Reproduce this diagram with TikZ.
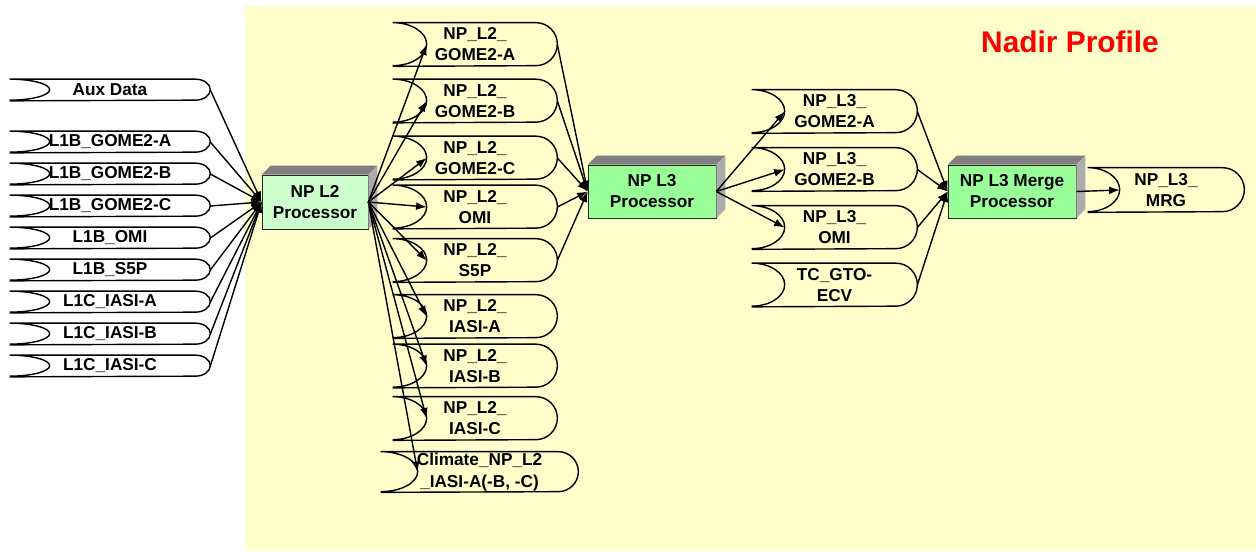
\documentclass[tikz,border=0pt]{standalone}
\usepackage{fontspec}
\setmainfont{Liberation Sans}
\definecolor{npyellow}{RGB}{255,255,204}
\definecolor{nplight}{RGB}{204,255,204}
\definecolor{npgreen}{RGB}{153,255,153}
\definecolor{npdark}{RGB}{128,128,128}
\definecolor{npside}{RGB}{172,172,172}
\usetikzlibrary{arrows.meta}

\begin{document}
\begin{tikzpicture}[x=0.02cm, y=0.02cm,
	dsbox/.style={inner sep=0pt, align=center, font=\fontsize{9.8}{12}\selectfont\bfseries},
	inbox/.style={dsbox, minimum width=4cm, minimum height=0.42cm},
	l2box/.style={dsbox, minimum width=3.28cm, minimum height=0.86cm},
	l3box/.style={dsbox, minimum width=3.3cm, minimum height=0.86cm},
	procbox/.style={draw=black!85, fill=#1, inner sep=1pt, align=center,
		minimum width=2.56cm, minimum height=1.06cm, font=\fontsize{9.8}{12}\selectfont\bfseries},
	parr/.style={-{Latex[length=6pt,width=4.5pt]}, line width=0.8pt},
	dsline/.style={line width=0.8pt}
	]
	\useasboundingbox (0,0) rectangle (1256,-551);
	\fill[npyellow] (245,-6) rectangle (1256,-551);
	\node[font=\fontsize{17}{20}\selectfont\bfseries, text=red] (title) at (1070,-42) {Nadir Profile};

	\node[inbox] (aux) at (110,-90) {Aux Data};
	\node[inbox] (l1bga) at (110,-142) {L1B\_GOME2-A};
	\node[inbox] (l1bgb) at (110,-174) {L1B\_GOME2-B};
	\node[inbox] (l1bgc) at (110,-206) {L1B\_GOME2-C};
	\node[inbox] (l1bomi) at (110,-238) {L1B\_OMI};
	\node[inbox] (l1bs5p) at (110,-270) {L1B\_S5P};
	\node[inbox] (l1cia) at (110,-302) {L1C\_IASI-A};
	\node[inbox] (l1cib) at (110,-334) {L1C\_IASI-B};
	\node[inbox] (l1cic) at (110,-366) {L1C\_IASI-C};

	\node[procbox=nplight, minimum width=2.12cm, minimum height=1.08cm] (l2) at (315,-202) {NP L2\\Processor};

	\node[l2box] (l2ga) at (475,-44.5) {NP\_L2\_\\GOME2-A};
	\node[l2box] (l2gb) at (475,-101) {NP\_L2\_\\GOME2-B};
	\node[l2box] (l2gc) at (475,-158) {NP\_L2\_\\GOME2-C};
	\node[l2box] (l2omi) at (475,-207) {NP\_L2\_\\OMI};
	\node[l2box] (l2s5p) at (475,-260.5) {NP\_L2\_\\S5P};
	\node[l2box] (l2ia) at (475,-316.5) {NP\_L2\_\\IASI-A};
	\node[l2box] (l2ib) at (475,-366) {NP\_L2\_\\IASI-B};
	\node[l2box] (l2ic) at (475,-418.5) {NP\_L2\_\\IASI-C};
	\node[dsbox, minimum width=3.94cm, minimum height=0.8cm] (clim) at (479.5,-472) {Climate\_NP\_L2\\\_IASI-A(-B, -C)};

	\node[procbox=npgreen] (l3) at (652,-191.5) {NP L3\\Processor};

	\node[l3box] (l3ga) at (834.5,-111.5) {NP\_L3\_\\GOME2-A};
	\node[l3box] (l3gb) at (834.5,-169.5) {NP\_L3\_\\GOME2-B};
	\node[l3box] (l3omi) at (834.5,-227.5) {NP\_L3\_\\OMI};
	\node[l3box] (tcgto) at (834.5,-285) {TC\_GTO-\\ECV};

	\node[procbox=npgreen] (merge) at (1012,-191.5) {NP L3 Merge\\Processor};
	\node[dsbox, minimum width=3.12cm, minimum height=0.88cm] (mrg) at (1166,-190) {NP\_L3\_\\MRG};

	\foreach \n in {l2,l3,merge}{
		\fill[npdark] (\n.north west) -- ++(9,9) -- ([shift={(9,9)}]\n.north east) -- (\n.north east) -- cycle;
		\fill[npside] (\n.north east) -- ++(9,9) -- ([shift={(9,9)}]\n.south east) -- (\n.south east) -- cycle;
	}

	\foreach \n in {aux,l1bga,l1bgb,l1bgc,l1bomi,l1bs5p,l1cia,l1cib,l1cic}
		\draw[dsline] (\n.north west) arc[start angle=90, end angle=-90, x radius=40, y radius=10.5]
			(\n.north west) -- ([xshift=-0.3cm]\n.north east) arc[start angle=90, end angle=-90, x radius=15, y radius=10.5] -- (\n.south west);
	\foreach \n in {l2ga,l2gb,l2gc,l2omi,l2s5p,l2ia,l2ib,l2ic}
		\draw[dsline] (\n.north west) arc[start angle=90, end angle=-90, x radius=34, y radius=21.5]
			(\n.north west) -- ([xshift=-0.43cm]\n.north east) arc[start angle=90, end angle=-90, radius=21.5] -- (\n.south west);
	\draw[dsline] (clim.north west) arc[start angle=90, end angle=-90, x radius=37, y radius=20]
		(clim.north west) -- ([xshift=-0.4cm]clim.north east) arc[start angle=90, end angle=-90, radius=20] -- (clim.south west);
	\foreach \n in {l3ga,l3gb,l3omi,tcgto}
		\draw[dsline] (\n.north west) arc[start angle=90, end angle=-90, x radius=33, y radius=21.5]
			(\n.north west) -- ([xshift=-0.43cm]\n.north east) arc[start angle=90, end angle=-90, radius=21.5] -- (\n.south west);
	\draw[dsline] (mrg.north west) arc[start angle=90, end angle=-90, x radius=32, y radius=22]
		(mrg.north west) -- ([xshift=-0.44cm]mrg.north east) arc[start angle=90, end angle=-90, radius=22] -- (mrg.south west);

	\foreach \n in {aux,l1bga,l1bgb,l1bgc,l1bomi,l1bs5p,l1cia,l1cib,l1cic}
		\draw[parr] (\n.east) -- (l2.west);
	\foreach \n in {l2ga,l2gb,l2gc,l2omi,l2s5p,l2ia,l2ib,l2ic}
		\draw[parr] (l2.east) -- ([xshift=0.68cm]\n.west);
	\draw[parr] (l2.east) -- ([xshift=0.74cm]clim.west);
	\foreach \n in {l2ga,l2gb,l2gc,l2omi,l2s5p}
		\draw[parr] (\n.east) -- (l3.west);
	\foreach \n in {l3ga,l3gb,l3omi}
		\draw[parr] (l3.east) -- ([xshift=0.66cm]\n.west);
	\foreach \n in {l3ga,l3gb,l3omi,tcgto}
		\draw[parr] (\n.east) -- (merge.west);
	\draw[parr] (merge.east) -- ([xshift=0.64cm]mrg.west);
\end{tikzpicture}
\end{document}
